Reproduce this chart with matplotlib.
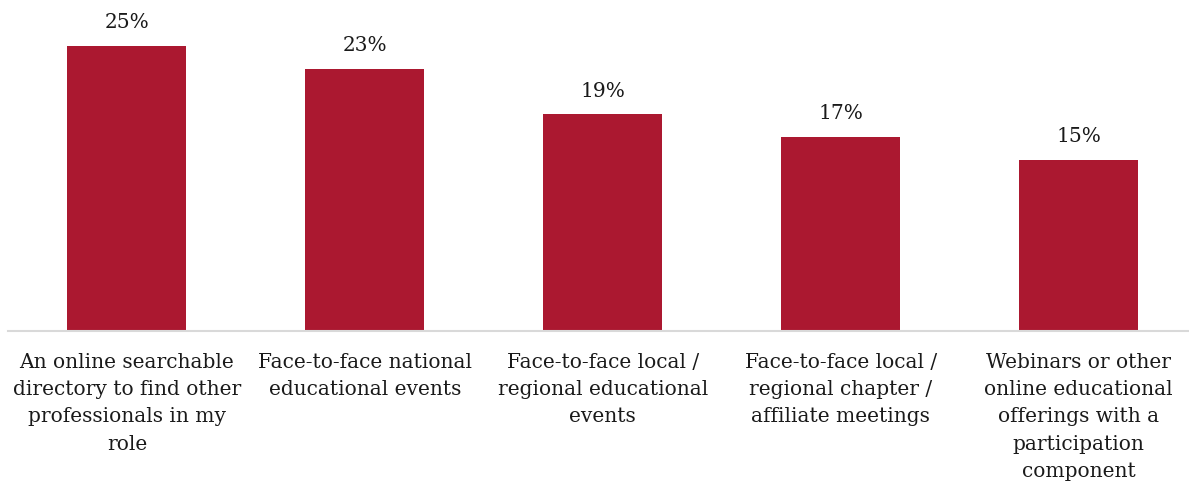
import matplotlib
matplotlib.use("Agg")
import matplotlib.pyplot as plt

categories = [
    "An online searchable\ndirectory to find other\nprofessionals in my\nrole",
    "Face-to-face national\neducational events",
    "Face-to-face local /\nregional educational\nevents",
    "Face-to-face local /\nregional chapter /\naffiliate meetings",
    "Webinars or other\nonline educational\nofferings with a\nparticipation\ncomponent",
]
values = [25, 23, 19, 17, 15]
value_labels = ["25%", "23%", "19%", "17%", "15%"]

W, H = 1189, 487
fig = plt.figure(figsize=(W / 100, H / 100), dpi=100)
plt.rcParams["font.family"] = ["DejaVu Serif"]

left = 8 / W
right = 1197.5 / W
bottom = (H - 331) / H
top = (H - 5) / H
ax = fig.add_axes([left, bottom, right - left, top - bottom])

x = list(range(len(values)))
ax.bar(x, values, width=0.5, color="#AB1830", zorder=2)
for xi, v, lab in zip(x, values, value_labels):
    ax.annotate(lab, (xi, v), xytext=(0, 10), textcoords="offset points",
                ha="center", va="bottom", fontsize=14.5, color="#1a1a1a")

ax.set_xlim(-0.5, len(values) - 0.5)
ax.set_ylim(0, 28.6)
ax.set_xticks(x)
ax.set_xticklabels(categories, fontsize=14.5, color="#1a1a1a", linespacing=1.56)
ax.tick_params(axis="x", length=0, pad=15.5)
ax.set_yticks([])
for s in ["top", "right", "left"]:
    ax.spines[s].set_visible(False)
ax.spines["bottom"].set_color("#D9D9D9")
ax.spines["bottom"].set_linewidth(1.5)

fig.savefig("out.png", dpi=100)
